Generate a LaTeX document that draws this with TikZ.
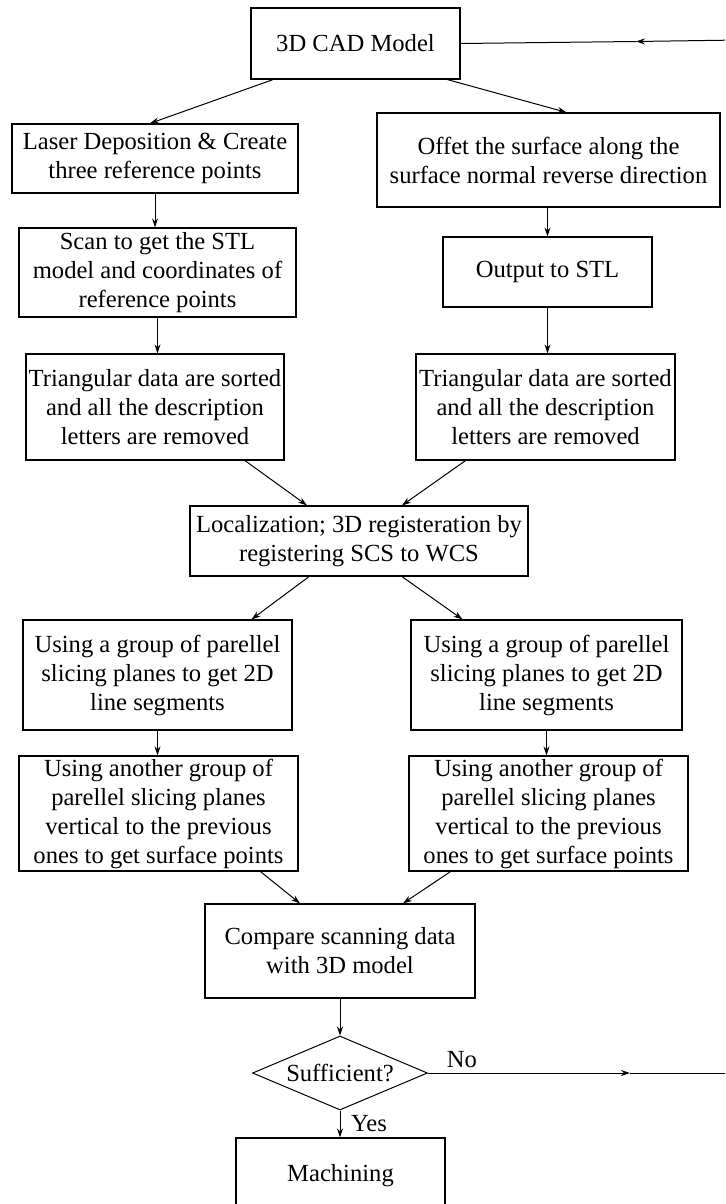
\documentclass[tikz,border=0pt]{standalone}
\usepackage{fontspec}
\setmainfont{Liberation Serif}
\usetikzlibrary{positioning, shapes.geometric, arrows.meta}

\tikzset{
    box/.style = {draw, line width=0.6pt, align=center, inner sep=0pt, font=\fontsize{12.3}{14.5}\selectfont},
    decision/.style = {diamond, draw, line width=0.5pt, aspect=2.4, inner sep=0pt, font=\fontsize{12.3}{14.5}\selectfont},
    lbl/.style = {inner sep=1pt, font=\fontsize{12.3}{14.5}\selectfont},
    flow/.style = {line width=0.5pt, -{Stealth[length=4.5pt, width=3pt]}},
    plain/.style = {line width=0.5pt},
}

\begin{document}
\begin{tikzpicture}[x=0.5pt, y=-0.5pt]
    \useasboundingbox (0, 0) rectangle (725, 1204);
    \clip (0, 0) rectangle (725, 1204);

    \node [box, minimum width=104.5pt, minimum height=35.5pt] (cad) at (355.5, 43.5) {3D CAD Model};
    \node [box, minimum width=143pt, minimum height=34.5pt] (laser) at (155, 158.5) {Laser Deposition \& Create\\three reference points};
    \node [box, minimum width=171.5pt, minimum height=47pt] (offset) at (548.5, 160) {Offet the surface along the\\surface normal reverse direction};
    \node [box, minimum width=138.5pt, minimum height=44.5pt] (scan) at (157.5, 272.5) {Scan to get the STL\\model and coordinates of\\reference points};
    \node [box, minimum width=104.5pt, minimum height=35pt] (stl) at (547.5, 272) {Output to STL};
    \node [box, minimum width=129pt, minimum height=53pt] (sortleft) at (155, 407) {Triangular data are sorted\\and all the description\\letters are removed};
    \node [box, minimum width=129.5pt, minimum height=53pt] (sortright) at (545.5, 407) {Triangular data are sorted\\and all the description\\letters are removed};
    \node [box, minimum width=169pt, minimum height=35pt] (local) at (359, 541) {Localization; 3D registeration by\\registering SCS to WCS};
    \node [box, minimum width=134.5pt, minimum height=55pt] (sliceleft) at (157.5, 675) {Using a group of parellel\\slicing planes to get 2D\\line segments};
    \node [box, minimum width=135.5pt, minimum height=55pt] (sliceright) at (546.5, 675) {Using a group of parellel\\slicing planes to get 2D\\line segments};
    \node [box, minimum width=139.5pt, minimum height=57.5pt] (crossleft) at (158.5, 813.5) {Using another group of\\parellel slicing planes\\vertical to the previous\\ones to get surface points};
    \node [box, minimum width=139.5pt, minimum height=57.5pt] (crossright) at (548.5, 813.5) {Using another group of\\parellel slicing planes\\vertical to the previous\\ones to get surface points};
    \node [box, minimum width=135pt, minimum height=47pt] (compare) at (340, 951) {Compare scanning data\\with 3D model};
    \node [decision, minimum width=87.5pt, minimum height=37pt] (check) at (340, 1073) {Sufficient?};
    \node [box, minimum width=104.5pt, minimum height=38pt] (machining) at (340.5, 1176) {Machining};

    \node [lbl] (no) at (462, 1060) {No};
    \node [lbl] (yes) at (369, 1124) {Yes};

    \coordinate (feedtop) at (740, 40);
    \coordinate (feedbottom) at (740, 1073);
    \coordinate (topmid) at (636, 41.5);
    \coordinate (bottommid) at (630, 1073);

    \draw [flow] ([xshift=-41.25pt]cad.south) -- ([xshift=-2.5pt]laser.north);
    \draw [flow] ([xshift=46pt]cad.south) -- ([xshift=9pt]offset.north);
    \draw [flow] (laser.south) -- (laser.south |- scan.north);
    \draw [flow] (stl.north |- offset.south) -- (stl.north);
    \draw [flow] (scan.south) -- (scan.south |- sortleft.north);
    \draw [flow] (stl.south) -- (stl.south |- sortright.north);
    \draw [flow] ([xshift=45pt]sortleft.south) -- ([xshift=-26pt]local.north);
    \draw [flow] ([xshift=-40pt]sortright.south) -- ([xshift=21.5pt]local.north);
    \draw [flow] ([xshift=-25pt]local.south) -- ([xshift=47pt]sliceleft.north);
    \draw [flow] ([xshift=21.5pt]local.south) -- ([xshift=-42pt]sliceright.north);
    \draw [flow] (sliceleft.south) -- (sliceleft.south |- crossleft.north);
    \draw [flow] (sliceright.south) -- (sliceright.south |- crossright.north);
    \draw [flow] ([xshift=51pt]crossleft.south) -- ([xshift=-20pt]compare.north);
    \draw [flow] ([xshift=-49pt]crossright.south) -- ([xshift=31.5pt]compare.north);
    \draw [flow] (compare.south) -- (check.north);
    \draw [flow] (check.south) -- (check.south |- machining.north);

    \draw [flow] (check.east) -- (bottommid);
    \draw [plain] (bottommid) -- (feedbottom) -- (feedtop);
    \draw [flow] (feedtop) -- (topmid);
    \draw [plain] (topmid) -- (cad.east);
\end{tikzpicture}
\end{document}
